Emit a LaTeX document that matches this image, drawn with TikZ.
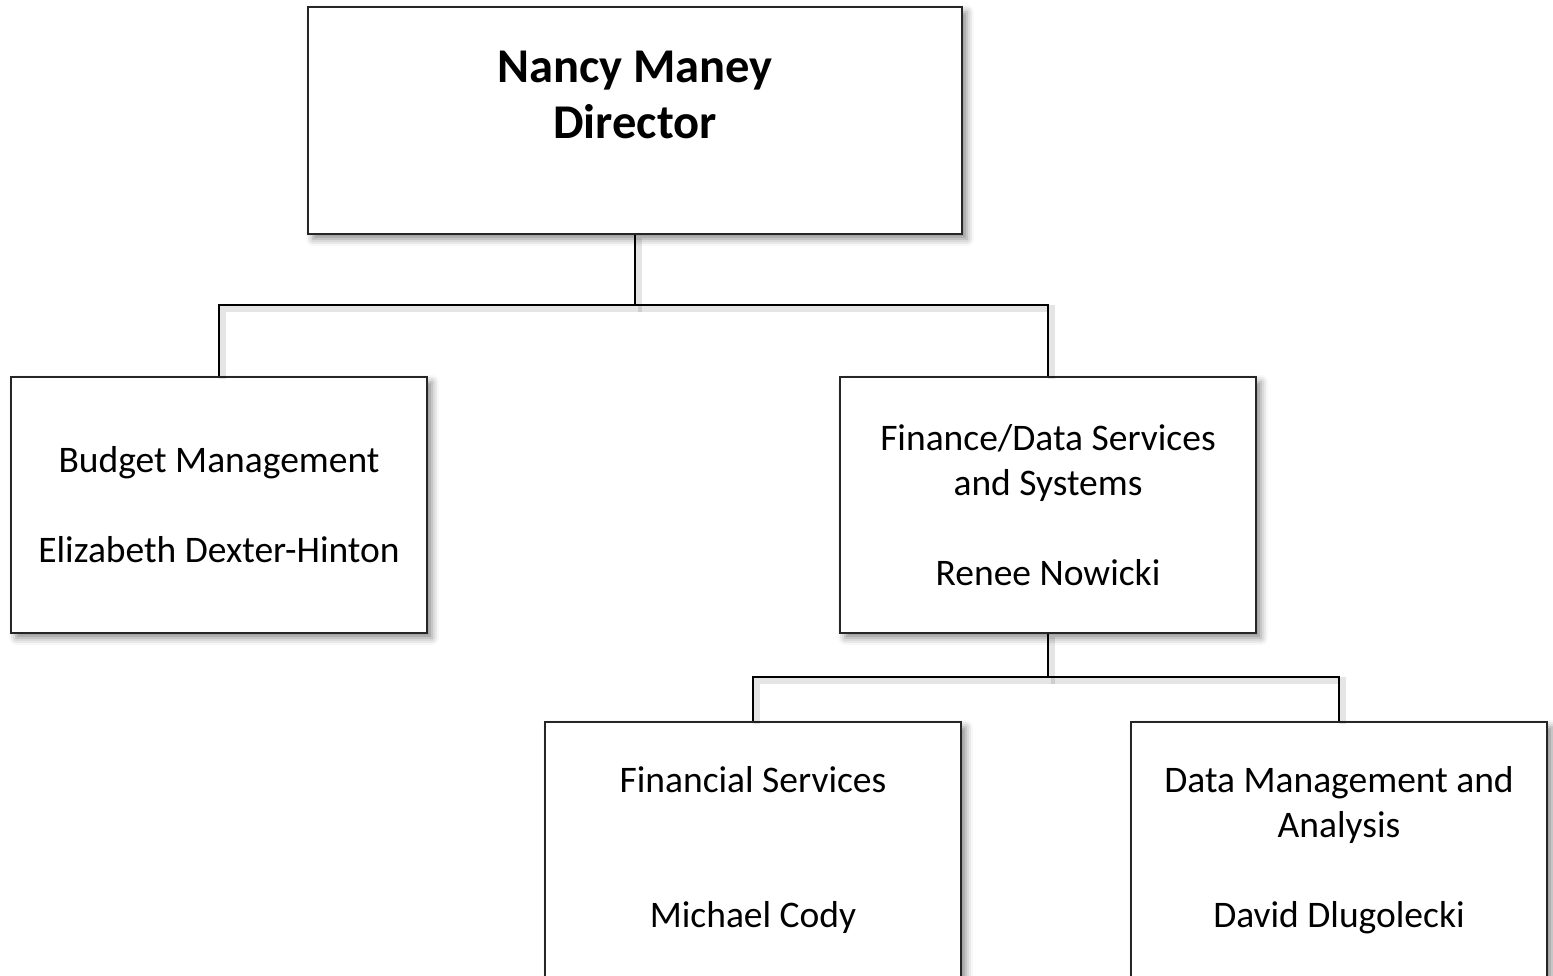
\documentclass[tikz,border=0pt]{standalone}
\usepackage{fontspec}
\setmainfont{Carlito}
\usetikzlibrary{shadows.blur}
\tikzset{
  orgbox/.style={draw=black!85, line width=1.8pt, fill=white, inner sep=0pt,
    minimum width=416pt, minimum height=256pt, align=center,
    font=\fontsize{37.5pt}{45pt}\selectfont,
    blur shadow={shadow xshift=5pt, shadow yshift=-5pt, shadow blur radius=7pt, shadow opacity=45}},
  conn/.style={draw=black, line width=1.8pt,
    preaction={draw=black, opacity=0.10, line width=7pt, transform canvas={shift={(3pt,-3pt)}}}},
  boldtext/.style={align=center, inner sep=0pt, font=\bfseries\fontsize{48.5pt}{56pt}\selectfont}
}
\begin{document}
\begin{tikzpicture}[x=1pt,y=-1pt]
\useasboundingbox (0,0) rectangle (1553,975);
\coordinate (j1) at (635,305);
\coordinate (j2) at (1048,677);
\node[orgbox, minimum width=654pt, minimum height=227pt] (top) at (635,120.5) {};
\node[orgbox] (budget) at (219,505) {Budget Management\\[45pt]Elizabeth Dexter-Hinton};
\node[orgbox] (fin) at (1048,505) {Finance/Data Services\\and Systems\\[45pt]Renee Nowicki};
\node[orgbox] (finsvc) at (753,850) {Financial Services\\[90pt]Michael Cody};
\node[orgbox] (data) at (1339,850) {Data Management and\\Analysis\\[45pt]David Dlugolecki};
\node[boldtext] (toptext) at (635,95) {Nancy Maney\\Director};
\draw[conn] (top.south) -- (j1) -| (budget.north);
\draw[conn] (j1) -| (fin.north);
\draw[conn] (fin.south) -- (j2) -| (finsvc.north);
\draw[conn] (j2) -| (data.north);
\end{tikzpicture}
\end{document}
